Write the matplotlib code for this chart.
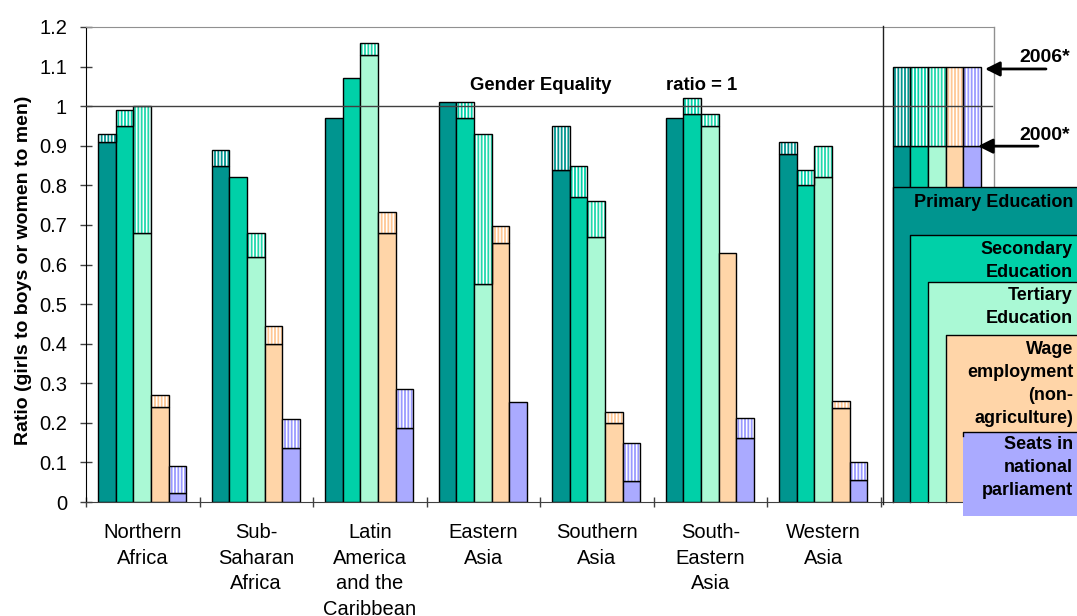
import numpy as np
import matplotlib
matplotlib.use('Agg')
import matplotlib.pyplot as plt
from matplotlib.patches import Rectangle

plt.rcParams['font.family'] = ['Liberation Sans', 'DejaVu Sans']
plt.rcParams['hatch.linewidth'] = 1.3

# Data: 2000 value is the solid part, 2006 the hatched top
regions = ['Northern\nAfrica', 'Sub-\nSaharan\nAfrica', 'Latin\nAmerica\nand the\nCaribbean',
           'Eastern\nAsia', 'Southern\nAsia', 'South-\nEastern\nAsia', 'Western\nAsia']
series = ['Primary Education', 'Secondary\nEducation', 'Tertiary\nEducation',
          'Wage\nemployment\n(non-\nagriculture)', 'Seats in\nnational\nparliament']
colors = ['#00958f', '#00d0a8', '#aaf9d5', '#ffd5a8', '#aaaaff']
hatch_colors = ['#00958f', '#00d0a8', '#22d8ac', '#ffc794', '#9a9aff']

primary_2000 = [0.91, 0.85, 0.97, 1.01, 0.84, 0.97, 0.88]
primary_2006 = [0.93, 0.89, 0.97, 1.01, 0.95, 0.97, 0.91]
secondary_2000 = [0.95, 0.82, 1.07, 0.97, 0.77, 0.98, 0.80]
secondary_2006 = [0.99, 0.82, 1.07, 1.01, 0.85, 1.02, 0.84]
tertiary_2000 = [0.68, 0.62, 1.13, 0.55, 0.67, 0.95, 0.82]
tertiary_2006 = [1.00, 0.68, 1.16, 0.93, 0.76, 0.98, 0.90]
wage_2000 = [0.24, 0.40, 0.68, 0.655, 0.20, 0.63, 0.238]
wage_2006 = [0.271, 0.445, 0.733, 0.698, 0.228, 0.63, 0.256]
seats_2000 = [0.024, 0.137, 0.188, 0.253, 0.053, 0.162, 0.056]
seats_2006 = [0.091, 0.21, 0.285, 0.253, 0.149, 0.211, 0.101]

vals_2000 = [primary_2000, secondary_2000, tertiary_2000, wage_2000, seats_2000]
vals_2006 = [primary_2006, secondary_2006, tertiary_2006, wage_2006, seats_2006]

# legend key bars (8th slot)
key_2000 = 0.9
key_2006 = 1.1
# tops of the stepped legend boxes
box_tops = [0.795, 0.674, 0.556, 0.422, 0.177]

fig = plt.figure(figsize=(10.77, 6.16), dpi=100)
ax = fig.add_axes([86 / 1077, 1 - 502 / 616, 908 / 1077, 475 / 616])

w = 0.155
off = 0.108
n = len(regions)
x0 = np.arange(n + 1)

for j in range(5):
    lefts = x0 + off + j * w
    v0 = np.array(vals_2000[j] + [key_2000])
    v1 = np.array(vals_2006[j] + [key_2006])
    ax.bar(lefts, v0, width=w, align='edge', color=colors[j], edgecolor='black',
           linewidth=1, zorder=2)
    dh = np.clip(v1 - v0, 0, None)
    ax.bar(lefts, dh, bottom=v0, width=w, align='edge', facecolor='white',
           edgecolor=hatch_colors[j], hatch='|||||', linewidth=0, zorder=2)
    ax.bar(lefts[dh > 0], dh[dh > 0], bottom=v0[dh > 0], width=w, align='edge',
           fill=False, edgecolor='black', linewidth=1, zorder=2.1)

# stepped legend boxes, text baseline = last line
last_baselines = [207, 277, 323, 423, 495]
for j in range(5):
    left = n + off + j * w
    bottom = -0.035 if j == 4 else 0
    z = 3.2 if j == 4 else 2.2
    ax.add_patch(Rectangle((left, bottom), 3, box_tops[j] - bottom, facecolor=colors[j],
                           edgecolor='none', clip_on=False, zorder=z))
    ax.plot([left, left, left + 3], [bottom if j < 4 else box_tops[j] - 0.01, box_tops[j], box_tops[j]],
            color='black', lw=1, clip_on=False, zorder=z + 0.05)
    fig.text(1073 / 1077, 1 - last_baselines[j] / 616, series[j], ha='right', va='baseline',
             fontsize=13, fontweight='bold', linespacing=1.45, zorder=10)

ax.set_xlim(0, n + 1)
ax.set_ylim(0, 1.2)

# equality line and separator
ax.plot([0, (992 - 86) / 113.5], [1, 1], color='#404040', lw=1, zorder=4, clip_on=False)
ax.plot([n + 0.02, n + 0.02], [-0.005, 1.203], color='#202020', lw=1, zorder=4, clip_on=False)
ax.plot([n + 1, n + 1], [box_tops[0], 1.2], color='#909090', lw=1, zorder=1, clip_on=False)

ax.text((470 - 86) / 113.5, (502 - 90) / 396, 'Gender Equality', fontsize=13.3,
        fontweight='bold', ha='left', va='baseline')
ax.text((737 - 86) / 113.5, (502 - 90) / 396, 'ratio = 1', fontsize=13.3,
        fontweight='bold', ha='right', va='baseline')

# year arrows
arrow = dict(arrowstyle='-|>', lw=2, color='black', mutation_scale=22, shrinkA=0, shrinkB=0)
ax.annotate('', xy=(7.921, 1.094), xytext=(8.458, 1.094), arrowprops=arrow,
            annotation_clip=False)
ax.annotate('', xy=(7.859, 0.899), xytext=(8.388, 0.899), arrowprops=arrow,
            annotation_clip=False)
fig.text(1070 / 1077, 1 - 62 / 616, '2006*', ha='right', va='baseline', fontsize=14,
         fontweight='bold')
fig.text(1070 / 1077, 1 - 140 / 616, '2000*', ha='right', va='baseline', fontsize=14,
         fontweight='bold')

# axes styling
ax.set_yticks(np.arange(0, 1.21, 0.1))
ax.set_yticklabels(['%g' % round(v, 1) for v in np.arange(0, 1.21, 0.1)])
ax.tick_params(axis='y', direction='inout', length=8.6, width=1, color='#404040',
               labelsize=14.5, pad=9.4)
ax.set_xticks(np.arange(0, n + 2))
ax.set_xticks(np.arange(n) + 0.5, minor=True)
ax.set_xticklabels([])
ax.set_xticklabels(regions, minor=True)
ax.tick_params(axis='x', which='major', direction='inout', length=7.2, width=1,
               color='#404040')
ax.tick_params(axis='x', which='minor', length=0, labelsize=14.5, pad=15)
for lab in ax.get_xticklabels(minor=True):
    lab.set_linespacing(1.45)

ax.spines['right'].set_visible(False)
ax.spines['top'].set_color('#909090')
ax.spines['left'].set_color('black')
ax.spines['bottom'].set_color('#404040')

ax.set_ylabel('Ratio (girls to boys or women to men)', fontsize=14, fontweight='bold')
ax.yaxis.set_label_coords(-0.0595, 0.488)

fig.savefig('out.png', dpi=100)
